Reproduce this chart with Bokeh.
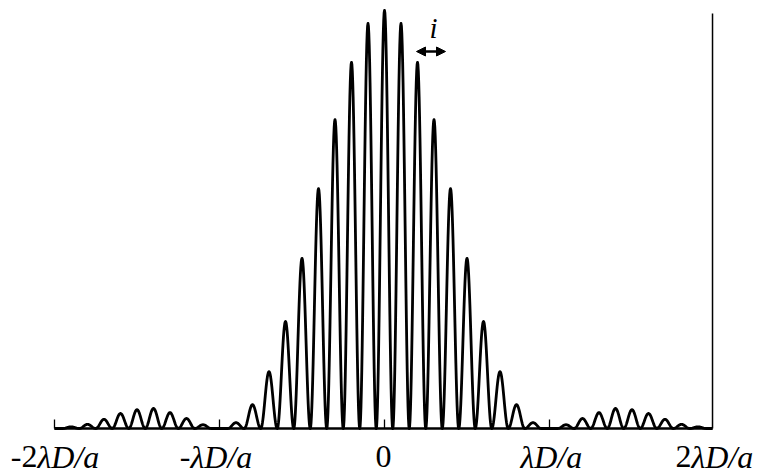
import numpy as np
from bokeh.plotting import figure
from bokeh.models import Range1d, Arrow, NormalHead
from bokeh.core.properties import value
from bokeh.embed import file_html
from bokeh.resources import INLINE

# ---- data -----------------------------------------------------------------
# interference orders (fringe spacing i = 0.1 * lambda D / a); order +-10 is missing
fringe_orders = [-19, -18, -17, -16, -15, -14, -13, -12, -11,
                 -9, -8, -7, -6, -5, -4, -3, -2, -1, 0,
                 1, 2, 3, 4, 5, 6, 7, 8, 9,
                 11, 12, 13, 14, 15, 16, 17, 18, 19]
# relative peak intensity of every bright fringe
fringe_heights = [0.004, 0.010, 0.022, 0.036, 0.045, 0.048, 0.038, 0.024, 0.009,
                  0.014, 0.057, 0.136, 0.256, 0.407, 0.574, 0.739, 0.876, 0.969, 1.000,
                  0.969, 0.876, 0.739, 0.574, 0.407, 0.256, 0.136, 0.057, 0.014,
                  0.009, 0.024, 0.038, 0.048, 0.045, 0.036, 0.022, 0.010, 0.004]
fringe_spacing = 0.1   # in units of lambda D / a

tick_values = [-2, -1, 0, 1, 2]
tick_prefix = ["-2", "-", "0", "", "2"]          # upright part
tick_suffix = ["λD/a", "λD/a", "", "λD/a", "λD/a"]  # italic part
axis_start, axis_end = -2.0, 1.988

# ---- layout (screen pixel helpers) ----------------------------------------
W, H = 759, 473
PX_X = 165.0            # px per lambda D / a
X0_PX = 384.0           # canvas x of x = 0
PX_Y = 418.0            # px per unit intensity
Y0_PX = 428.0           # canvas y of baseline


def dx(px):
    return px / PX_X


def dy(px):
    return px / PX_Y


p = figure(width=W, height=H,
           x_range=Range1d(-X0_PX / PX_X, (W - X0_PX) / PX_X),
           y_range=Range1d(-(H - Y0_PX) / PX_Y, Y0_PX / PX_Y),
           min_border=0, toolbar_location=None, output_backend="svg",
           x_axis_location=None, y_axis_location=None)
p.grid.visible = False
p.outline_line_color = None
p.background_fill_color = "white"
p.border_fill_color = "white"

# ---- intensity curve: each bright fringe drawn as a smooth bump -------------
xs = [axis_start]
ys = [0.0]
u = np.linspace(-0.5, 0.5, 41)
for k, h in zip(fringe_orders, fringe_heights):
    xc = k * fringe_spacing
    xs.extend(list(xc + u * fringe_spacing))
    ys.extend(list(h * np.cos(np.pi * u) ** 2))
xs.append(axis_end)
ys.append(0.0)
p.line(xs, ys, line_color="black", line_width=2.8, line_join="round")

# baseline and right border
p.line([axis_start, axis_end], [0, 0], line_color="black", line_width=2.5)
p.line([axis_end, axis_end], [0, dy(415)], line_color="black", line_width=1.5)

# small ticks
tick_x = [t for t in tick_values if t < axis_end]
p.segment(x0=tick_x, y0=[0] * len(tick_x), x1=tick_x, y1=[dy(9)] * len(tick_x),
          line_color="black", line_width=1.3)

# tick labels (upright prefix + italic suffix)
split_px = [-17, -29, -1, -29, -23]
label_y = -dy(28)
font = value("Liberation Serif")
fs = "32px"
for t, pre, suf, s in zip(tick_values, tick_prefix, tick_suffix, split_px):
    xsplit = t + dx(s)
    if pre and suf:
        p.text(x=[xsplit], y=[label_y], text=[pre], text_align="right",
               text_baseline="alphabetic", text_font=font, text_font_size=fs,
               text_color="black")
    elif pre:
        p.text(x=[xsplit], y=[label_y], text=[pre], text_align="center",
               text_baseline="alphabetic", text_font=font, text_font_size=fs,
               text_color="black")
    if suf:
        p.text(x=[xsplit], y=[label_y], text=[suf], text_align="left",
               text_baseline="alphabetic", text_font=font, text_font_size=fs,
               text_font_style="italic", text_color="black")

# fringe spacing marker "i" with double arrow
ax0, ax1 = dx(416 - X0_PX), dx(445 - X0_PX)
ay = dy(Y0_PX - 51)
p.add_layout(Arrow(x_start=ax0, y_start=ay, x_end=ax1, y_end=ay,
                   line_color="black", line_width=2.5,
                   start=NormalHead(size=9, fill_color="black", line_color="black"),
                   end=NormalHead(size=9, fill_color="black", line_color="black")))
p.text(x=[dx(433 - X0_PX)], y=[dy(Y0_PX - 27)], text=["i"], text_align="center",
       text_baseline="alphabetic", text_font=font, text_font_size="29px",
       text_font_style="italic", text_color="black")

open("out.html", "w").write(file_html(p, INLINE))
